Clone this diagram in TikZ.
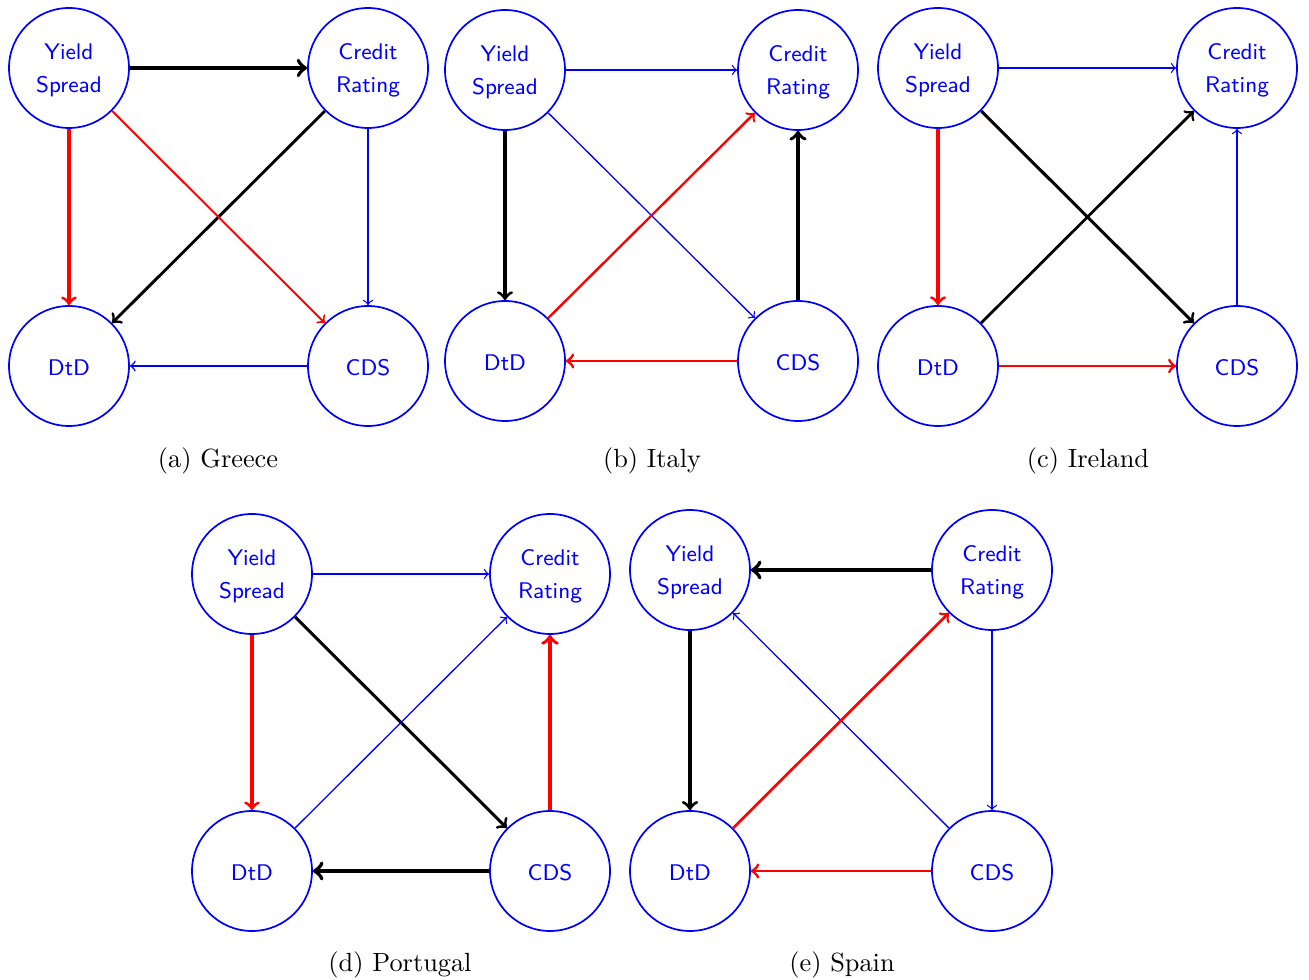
\documentclass[tikz,border=0pt]{standalone}
% two-line variable label, spaced like the node text
\newcommand\vlabel[2]{\begin{tabular}{@{}c@{}}\rule{0pt}{10pt}#1\\#2\end{tabular}}
\begin{document}
\begin{tikzpicture}[x=0.38pt,y=-0.38pt,
  var/.style={circle, draw=blue, line width=0.65pt, minimum size=45.6pt, inner sep=0pt,
    text=blue, font=\sffamily\fontsize{8.6}{12.5}\selectfont},
  var1/.style={var, execute at begin node={\rule{0pt}{7.6pt}}},
  kedge/.style={->, draw=black, line width=#1},
  redge/.style={->, draw=red, line width=#1},
  bedge/.style={->, draw=blue, line width=0.5pt},
  captext/.style={font=\fontsize{10}{12}\selectfont, inner sep=0pt}]
\useasboundingbox (0,0) rectangle (1309,980);

% (a) Greece
\node[var] (aY) at (69,68) {\vlabel{Yield}{Spread}};
\node[var] (aC) at (368,68) {\vlabel{Credit}{Rating}};
\node[var1] (aD) at (69,366) {DtD};
\node[var1] (aS) at (368,366) {CDS};
\draw[kedge=1.5pt] (aY) -- (aC);
\draw[kedge=1.1pt] (aC) -- (aD);
\draw[redge=1.15pt] (aY) -- (aD);
\draw[redge=0.75pt] (aY) -- (aS);
\draw[bedge] (aC) -- (aS);
\draw[bedge, line width=0.6pt] (aS) -- (aD);
\node[captext] (acap) at (218,461) {(a) Greece};

% (b) Italy
\node[var] (bY) at (505,70) {\vlabel{Yield}{Spread}};
\node[var] (bC) at (798,70) {\vlabel{Credit}{Rating}};
\node[var1] (bD) at (505,361) {DtD};
\node[var1] (bS) at (798,361) {CDS};
\draw[bedge] (bY) -- (bC);
\draw[bedge] (bY) -- (bS);
\draw[kedge=1.2pt] (bY) -- (bD);
\draw[redge=0.9pt] (bD) -- (bC);
\draw[kedge=1.35pt] (bS) -- (bC);
\draw[redge=1.1pt] (bS) -- (bD);
\node[captext] (bcap) at (652,461) {(b) Italy};

% (c) Ireland
\node[var] (cY) at (938,68) {\vlabel{Yield}{Spread}};
\node[var] (cC) at (1237,68) {\vlabel{Credit}{Rating}};
\node[var1] (cD) at (938,366) {DtD};
\node[var1] (cS) at (1237,366) {CDS};
\draw[bedge] (cY) -- (cC);
\draw[redge=1.2pt] (cY) -- (cD);
\draw[kedge=1.15pt] (cY) -- (cS);
\draw[kedge=1.05pt] (cD) -- (cC);
\draw[redge=1.05pt] (cD) -- (cS);
\draw[bedge] (cS) -- (cC);
\node[captext] (ccap) at (1088,461) {(c) Ireland};

% (d) Portugal
\node[var] (dY) at (252,574) {\vlabel{Yield}{Spread}};
\node[var] (dC) at (550,574) {\vlabel{Credit}{Rating}};
\node[var1] (dD) at (252,871) {DtD};
\node[var1] (dS) at (550,871) {CDS};
\draw[bedge] (dY) -- (dC);
\draw[redge=1.15pt] (dY) -- (dD);
\draw[kedge=1.15pt] (dY) -- (dS);
\draw[bedge] (dD) -- (dC);
\draw[redge=1.4pt] (dS) -- (dC);
\draw[kedge=1.55pt] (dS) -- (dD);
\node[captext] (dcap) at (400,965) {(d) Portugal};

% (e) Spain
\node[var] (eY) at (690,570) {\vlabel{Yield}{Spread}};
\node[var] (eC) at (992,570) {\vlabel{Credit}{Rating}};
\node[var1] (eD) at (690,871) {DtD};
\node[var1] (eS) at (992,871) {CDS};
\draw[kedge=1.55pt] (eC) -- (eY);
\draw[kedge=1.25pt] (eY) -- (eD);
\draw[bedge] (eS) -- (eY);
\draw[redge=1.0pt] (eD) -- (eC);
\draw[bedge] (eC) -- (eS);
\draw[redge=1.1pt] (eS) -- (eD);
\node[captext] (ecap) at (842,965) {(e) Spain};
\end{tikzpicture}
\end{document}
